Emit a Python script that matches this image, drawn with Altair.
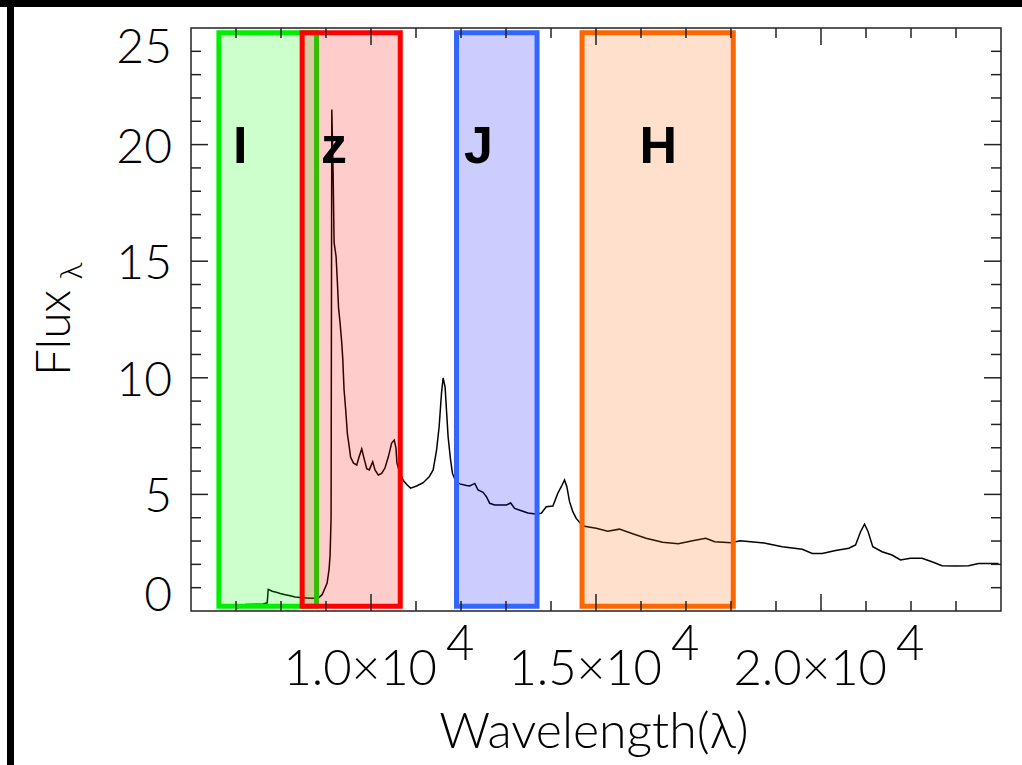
import altair as alt
import pandas as pd

# ---- spectrum: observed wavelength (Angstrom) and flux density ----
wavelength = [7005, 7207, 7606, 7694, 7716, 7805, 7894, 7983, 8093, 8204,
              8315, 8426, 8648, 8825, 8914, 9025, 9069, 9091, 9113, 9129,
              9158, 9180, 9224, 9253, 9279, 9313, 9350, 9373, 9401, 9439,
              9475, 9512, 9546, 9608, 9683, 9734, 9794, 9851, 9905, 9962,
              10038, 10089, 10162, 10237, 10310, 10384, 10459, 10517, 10554, 10576,
              10643, 10716, 10805, 10880, 11013, 11160, 11293, 11381, 11457, 11514,
              11567, 11603, 11647, 11678, 11714, 11767, 11811, 11884, 11973, 12122,
              12195, 12306, 12379, 12490, 12565, 12638, 12749, 13008, 13104, 13192,
              13341, 13487, 13658, 13784, 13895, 14042, 14152, 14228, 14301, 14352,
              14412, 14485, 14560, 14656, 14744, 15004, 15261, 15520, 15815, 16112,
              16480, 16828, 17145, 17438, 17638, 18003, 18203, 18735, 19141, 19584,
              19806, 20027, 20325, 20619, 20768, 20879, 20967, 21047, 21151, 21358,
              21579, 21765, 21987, 22244, 22466, 22688, 22985, 23280, 23502, 23945]
flux = [0.1, 0.28, 0.3, 0.35, 0.93, 0.85, 0.8, 0.75, 0.7, 0.65,
        0.6, 0.58, 0.55, 0.55, 0.7, 1.2, 1.8, 2.4, 4.0, 21.5,
        18.8, 15.8, 15.2, 14.1, 13.0, 12.35, 11.5, 10.8, 9.5, 8.6,
        7.6, 7.1, 6.6, 6.35, 6.26, 6.6, 6.95, 6.5, 6.1, 6.05,
        6.4, 6.05, 5.83, 5.9, 6.13, 6.6, 7.2, 7.33, 7.0, 6.35,
        5.9, 5.6, 5.4, 5.27, 5.36, 5.5, 5.75, 6.05, 6.9, 7.9,
        9.35, 10.0, 9.6, 8.6, 7.46, 6.5, 5.9, 5.55, 5.45, 5.38,
        5.36, 5.47, 5.19, 5.09, 4.9, 4.62, 4.55, 4.55, 4.63, 4.4,
        4.3, 4.2, 4.16, 4.19, 4.47, 4.5, 5.05, 5.33, 5.62, 5.33,
        4.69, 4.26, 3.97, 3.75, 3.63, 3.55, 3.42, 3.51, 3.31, 3.12,
        2.95, 2.88, 3.01, 3.12, 2.97, 2.93, 3.01, 2.92, 2.76, 2.65,
        2.47, 2.47, 2.59, 2.69, 2.83, 3.4, 3.72, 3.4, 2.76, 2.54,
        2.4, 2.19, 2.26, 2.26, 2.11, 1.94, 1.93, 1.94, 2.04, 2.04]

# ---- photometric bands ----
band_names = ["I", "z", "J", "H"]
band_start = [6620, 8470, 11900, 14690]
band_end = [8790, 10650, 13690, 18050]
band_label_x = [7095, 9180, 12390, 16385]
band_stroke = ["#00ee00", "#ff0000", "#3366ff", "#ff6600"]
band_fill = ["#00ff00", "#ff0000", "#0000ff", "#ff6600"]
band_low, band_high, band_label_y = 0.2, 24.8, 19.2

# ---- axes ----
x_major = [10000, 15000, 20000]
x_major_mantissa = ["1.0", "1.5", "2.0"]
x_minor = [7000, 8000, 9000, 11000, 12000, 13000, 14000, 16000, 17000,
           18000, 19000, 21000, 22000, 23000]
y_labels = [0, 5, 10, 15, 20, 25]
y_major = [5, 10, 15, 20]
y_minor = [1, 2, 3, 4, 6, 7, 8, 9, 11, 12, 13, 14, 16, 17, 18, 19, 21, 22, 23, 24]

W, H = 810, 583
THIN = "Lato"
INK = "#222222"

x_scale = alt.Scale(domain=[6000, 24000], nice=False, zero=False)
y_scale = alt.Scale(domain=[0, 25], nice=False, zero=False)

spec_df = pd.DataFrame({"wavelength": wavelength, "flux": flux})
band_df = pd.DataFrame({
    "band": band_names, "start": band_start, "end": band_end,
    "lx": band_label_x, "ly": [band_label_y] * 4,
    "lo": [band_low] * 4, "hi": [band_high] * 4,
    "stroke": band_stroke, "fill": band_fill,
})

spectrum = alt.Chart(spec_df).mark_line(color="black", strokeWidth=1.5, clip=True).encode(
    x=alt.X("wavelength:Q", scale=x_scale, axis=None),
    y=alt.Y("flux:Q", scale=y_scale, axis=None),
)

boxes = alt.Chart(band_df).mark_rect(fillOpacity=0.2, strokeWidth=5, strokeOpacity=1).encode(
    x=alt.X("start:Q", scale=x_scale, axis=None),
    x2="end:Q",
    y=alt.Y("lo:Q", scale=y_scale, axis=None),
    y2="hi:Q",
    fill=alt.Fill("fill:N", scale=None),
    stroke=alt.Stroke("stroke:N", scale=None),
)

band_text = alt.Chart(band_df).mark_text(
    font="Liberation Sans", fontWeight="bold", fontSize=52, color="black",
    align="center", baseline="alphabetic",
).encode(
    x=alt.X("lx:Q", scale=x_scale, axis=None),
    y=alt.Y("ly:Q", scale=y_scale, axis=None),
    text="band:N",
)


def x_ticks(values, length):
    df = pd.DataFrame({"v": values})
    base = alt.Chart(df).mark_rule(color=INK, strokeWidth=1.5)
    enc = alt.X("v:Q", scale=x_scale, axis=None)
    bottom = base.encode(x=enc, y=alt.value(H), y2=alt.value(H - length))
    top = base.encode(x=enc, y=alt.value(0), y2=alt.value(length))
    return [bottom, top]


def y_ticks(values, length):
    df = pd.DataFrame({"v": values})
    base = alt.Chart(df).mark_rule(color=INK, strokeWidth=1.5)
    enc = alt.Y("v:Q", scale=y_scale, axis=None)
    left = base.encode(y=enc, x=alt.value(0), x2=alt.value(length))
    right = base.encode(y=enc, x=alt.value(W), x2=alt.value(W - length))
    return [left, right]


ticks = x_ticks(x_major, 17) + x_ticks(x_minor, 10) + y_ticks(y_major, 17) + y_ticks(y_minor, 10)

# y tick labels: the end labels are kept inside the axis range
y_label_layers = []
for val in y_labels:
    if val == y_labels[-1]:
        shift = 35
    elif val == y_labels[0]:
        shift = 0
    else:
        shift = 18
    y_label_layers.append(
        alt.Chart(pd.DataFrame({"v": [val], "t": [str(val)]})).mark_text(
            font=THIN, fontWeight=300, fontSize=48, color="black",
            align="right", baseline="alphabetic", dy=shift,
        ).encode(x=alt.value(-19), y=alt.Y("v:Q", scale=y_scale, axis=None), text="t:N")
    )

xlab_df = pd.DataFrame({
    "v": x_major,
    "mant": [m + "\u00d710" for m in x_major_mantissa],
    "exp": ["4"] * len(x_major),
})
xlab_main = alt.Chart(xlab_df).mark_text(
    font=THIN, fontWeight=300, fontSize=49, color="black",
    align="right", baseline="alphabetic", dx=66,
).encode(x=alt.X("v:Q", scale=x_scale, axis=None), y=alt.value(657), text="mant:N")
xlab_exp = alt.Chart(xlab_df).mark_text(
    font=THIN, fontWeight=300, fontSize=49, color="black",
    align="left", baseline="alphabetic", dx=75,
).encode(x=alt.X("v:Q", scale=x_scale, axis=None), y=alt.value(632), text="exp:N")

one = pd.DataFrame({"k": [0]})
x_title = alt.Chart(one).mark_text(
    font=THIN, fontWeight=300, fontSize=50, color="black",
    align="center", baseline="alphabetic", text="Wavelength(\u03bb)",
).encode(x=alt.value(W / 2 - 2), y=alt.value(720))
y_title = alt.Chart(one).mark_text(
    font=THIN, fontWeight=300, fontSize=48, color="black", angle=270,
    align="center", baseline="alphabetic", text="Flux",
).encode(x=alt.value(-121), y=alt.value(305))
y_title_sub = alt.Chart(one).mark_text(
    font=THIN, fontWeight=300, fontSize=32, color="black", angle=270,
    align="center", baseline="alphabetic", text="\u03bb",
).encode(x=alt.value(-109), y=alt.value(243))

# black frame strips along the top and left edges of the figure
frame_top = alt.Chart(one).mark_rect(color="black").encode(
    x=alt.value(-191), x2=alt.value(W + 21), y=alt.value(-28), y2=alt.value(-21))
frame_left = alt.Chart(one).mark_rect(color="black").encode(
    x=alt.value(-184), x2=alt.value(-177), y=alt.value(-28), y2=alt.value(H + 154))

chart = alt.layer(
    spectrum, boxes, band_text, *ticks, *y_label_layers, xlab_main, xlab_exp,
    x_title, y_title, y_title_sub, frame_top, frame_left,
).properties(
    width=W, height=H,
    padding={"left": 191, "top": 28, "right": 21, "bottom": 154},
    autosize=alt.AutoSizeParams(type="none"),
    background="white",
).configure_view(stroke=INK, strokeWidth=1.5)

chart.save("out.html", embed_options={"renderer": "svg", "actions": False})
